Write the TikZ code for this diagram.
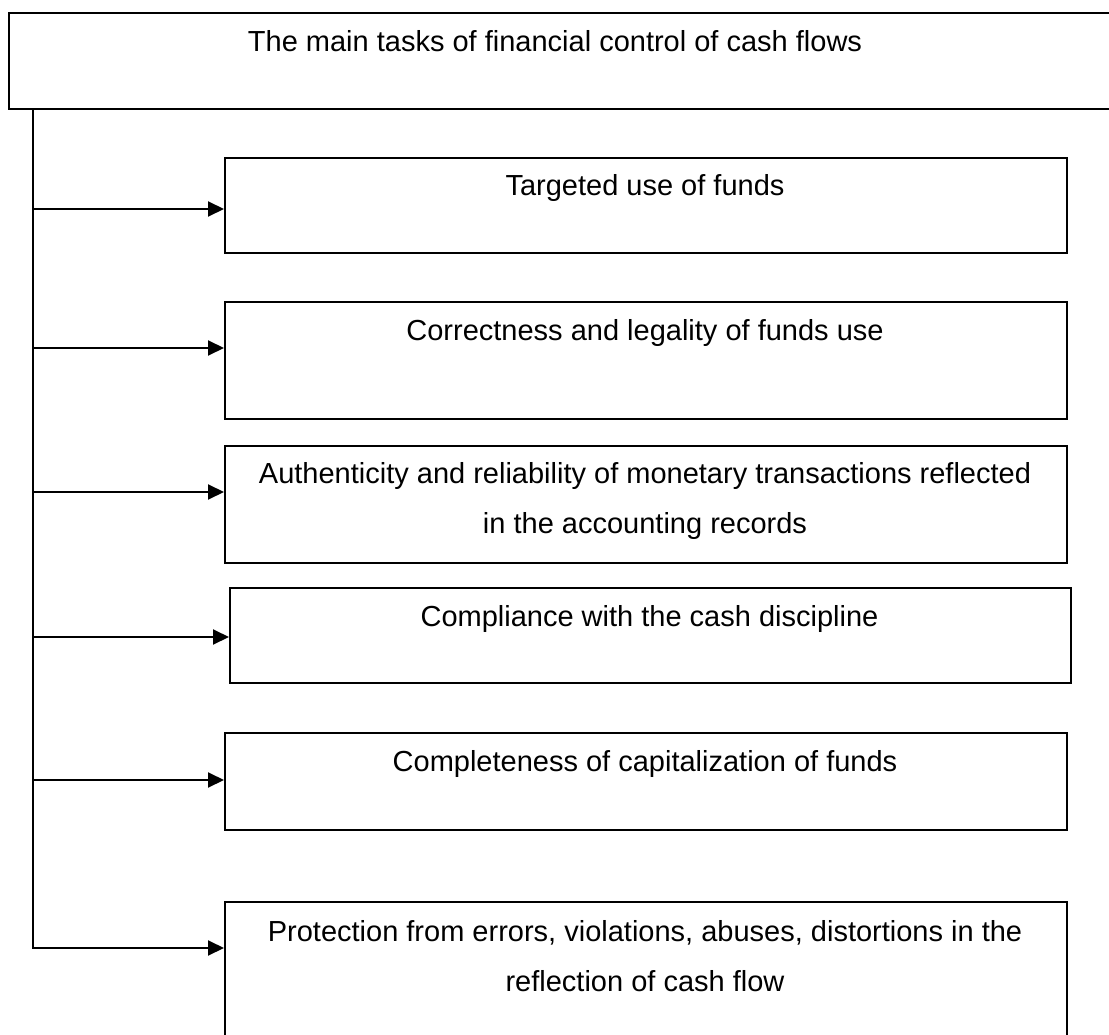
\documentclass[tikz,border=0pt]{standalone}
\usepackage{fontspec}
\setmainfont{Liberation Sans}
\usetikzlibrary{arrows.meta,calc}
\begin{document}
\begin{tikzpicture}[x=1pt,y=-1pt,
  box/.style={draw, line width=2pt, rectangle, inner sep=0pt, anchor=north west},
  txt/.style={font=\fontsize{29}{50}\selectfont, anchor=base, inner sep=0pt, align=center},
  arr/.style={line width=2pt, -{Triangle[length=16pt,width=15pt]}}]
\useasboundingbox (0,0) rectangle (1109,1035);
% title
\node[box, minimum width=1110pt, minimum height=96pt] (title) at (8,12) {};
\node[txt] (tt) at (555,52) {The main tasks of financial control of cash flows};
% task boxes
\node[box, minimum width=842pt, minimum height=95pt]  (b1) at (224,157) {};
\node[box, minimum width=842pt, minimum height=117pt] (b2) at (224,301) {};
\node[box, minimum width=842pt, minimum height=117pt] (b3) at (224,445) {};
\node[box, minimum width=841pt, minimum height=95pt]  (b4) at (229,587) {};
\node[box, minimum width=842pt, minimum height=97pt]  (b5) at (224,732) {};
\node[box, minimum width=842pt, minimum height=140pt] (b6) at (224,901) {};
% texts (multi-line nodes are anchored at the baseline of their last line)
\node[txt] (t1) at (645,196) {Targeted use of funds};
\node[txt] (t2) at (645,340) {Correctness and legality of funds use};
\node[txt] (t3) at (645,533) {Authenticity and reliability of monetary transactions reflected\\in the accounting records};
\node[txt] (t4) at (649.5,626) {Compliance with the cash discipline};
\node[txt] (t5) at (645,771) {Completeness of capitalization of funds};
\node[txt] (t6) at (645,991) {Protection from errors, violations, abuses, distortions in the\\reflection of cash flow};
% arrow targets
\coordinate (s0) at ([xshift=24.5pt]title.south west);
\coordinate (a1) at ([yshift=-52pt]b1.north west);
\coordinate (a2) at ([yshift=-47pt]b2.north west);
\coordinate (a3) at ([yshift=-47pt]b3.north west);
\coordinate (a4) at ([yshift=-50pt]b4.north west);
\coordinate (a5) at ([yshift=-48pt]b5.north west);
\coordinate (a6) at ([yshift=-47pt]b6.north west);
% connectors
\draw[arr] (s0) |- (a6);
\foreach \i in {1,...,5}{
  \draw[arr] (s0 |- a\i) -- (a\i);
}
\end{tikzpicture}
\end{document}
